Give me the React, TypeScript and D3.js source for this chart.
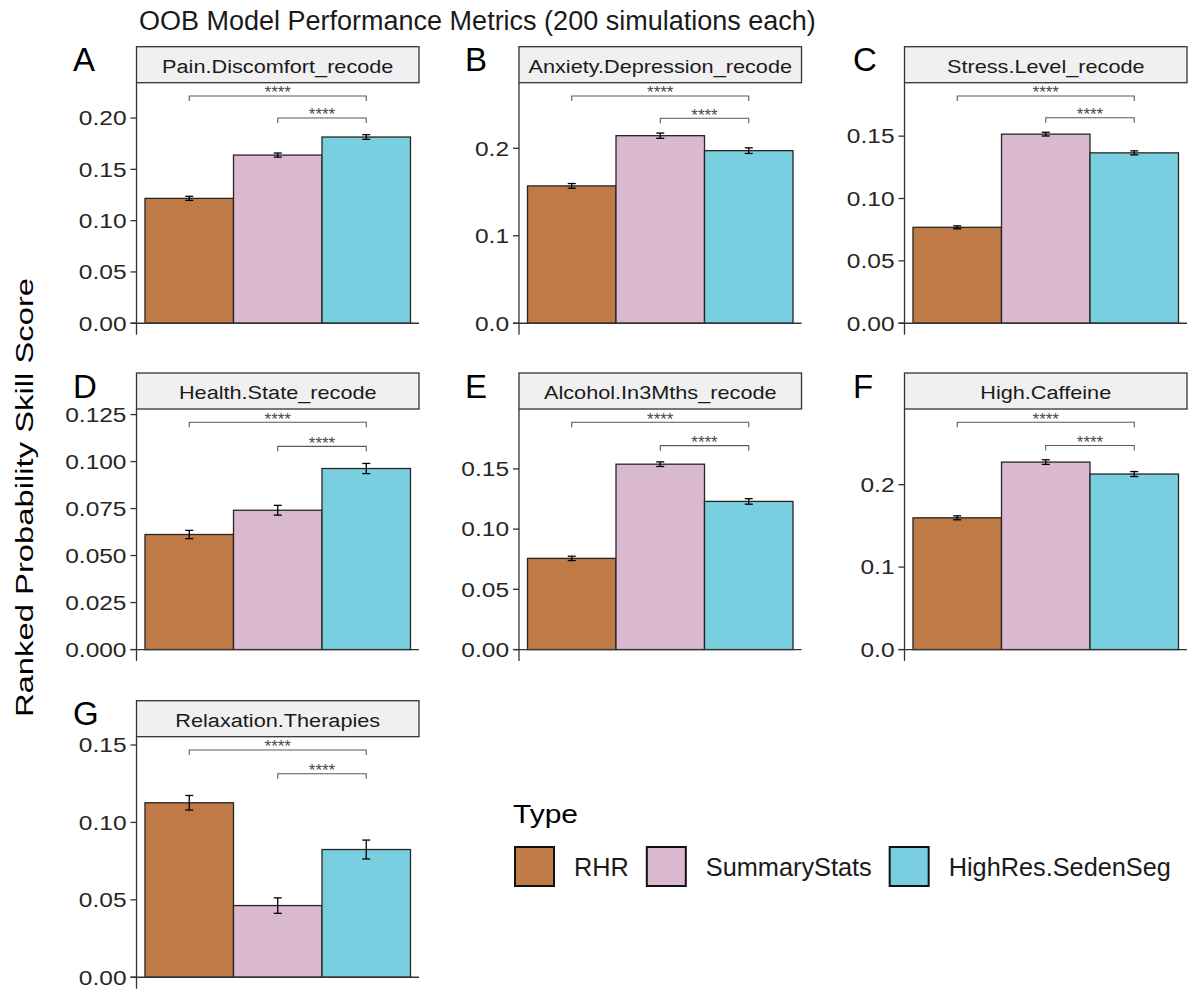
import React, { useMemo } from "react";
import * as d3 from "d3";

// ---- data ----
const types = ["RHR", "SummaryStats", "HighRes.SedenSeg"];
const typeColors = ["#BF7A45", "#DAB8D0", "#79CEDF"];

const panelLetters = ["A", "B", "C", "D", "E", "F", "G"];
const outcomes = [
  "Pain.Discomfort_recode",
  "Anxiety.Depression_recode",
  "Stress.Level_recode",
  "Health.State_recode",
  "Alcohol.In3Mths_recode",
  "High.Caffeine",
  "Relaxation.Therapies",
];

const rhrMean = [0.1217, 0.157, 0.0769, 0.0612, 0.0757, 0.1598, 0.1127];
const rhrErr = [0.002, 0.0027, 0.0012, 0.0022, 0.0018, 0.0024, 0.0047];
const summaryMean = [0.1639, 0.2144, 0.1516, 0.0741, 0.1539, 0.2274, 0.0463];
const summaryErr = [0.002, 0.003, 0.0015, 0.0026, 0.0019, 0.0028, 0.005];
const highResMean = [0.1815, 0.1973, 0.1366, 0.0963, 0.123, 0.2129, 0.0825];
const highResErr = [0.0023, 0.0032, 0.0016, 0.0027, 0.0023, 0.003, 0.0061];

// significance brackets (SummaryStats vs HighRes, RHR vs HighRes)
const bracketInner = [0.2, 0.2343, 0.1648, 0.1081, 0.1693, 0.2476, 0.1314];
const bracketOuter = [0.2215, 0.2598, 0.1822, 0.1209, 0.1887, 0.2757, 0.1468];
const bracketLabel = "****";

const tickValues = [
  [0, 0.05, 0.1, 0.15, 0.2],
  [0, 0.1, 0.2],
  [0, 0.05, 0.1, 0.15],
  [0, 0.025, 0.05, 0.075, 0.1, 0.125],
  [0, 0.05, 0.1, 0.15],
  [0, 0.1, 0.2],
  [0, 0.05, 0.1, 0.15],
];
const tickFormats = [".2f", ".1f", ".2f", ".3f", ".2f", ".1f", ".2f"];

const title = "OOB Model Performance Metrics (200 simulations each)";
const yTitle = "Ranked Probability Skill Score";
const legendTitle = "Type";

// ---- layout ----
const W = 1190;
const H = 990;
const FONT = "'Liberation Sans', Arial, Helvetica, sans-serif";
const colAxisX = [136.5, 519, 904.5];
const letterX = [73, 465, 853];
const rowStripTop = [46.7, 373, 700.7];
const PANEL_W = 282.5;
const STRIP_H = 36;
const PLOT_H = 252;
const BAR_PAD = 8.5;
const TICK_LEN = 6;
const TIP_LEN = 5;
const INK = "#262626";

function Panel({ i }: { i: number }) {
  const col = i % 3;
  const row = Math.floor(i / 3);
  const x0 = colAxisX[col];
  const stripTop = rowStripTop[row];
  const plotTop = stripTop + STRIP_H;
  const plotBottom = plotTop + PLOT_H;
  const top = bracketOuter[i] * 1.008;
  const y = d3
    .scaleLinear()
    .domain([-0.05 * top, 1.05 * top])
    .range([plotBottom, plotTop]);
  const x = d3
    .scaleBand<string>()
    .domain(types)
    .range([x0 + BAR_PAD, x0 + PANEL_W - BAR_PAD])
    .padding(0);
  const bw = x.bandwidth();
  const cx = (t: string) => (x(t) as number) + bw / 2;
  const means = [rhrMean[i], summaryMean[i], highResMean[i]];
  const errs = [rhrErr[i], summaryErr[i], highResErr[i]];
  const fmt = d3.format(tickFormats[i]);

  const brackets = [
    { from: types[1], to: types[2], v: bracketInner[i] },
    { from: types[0], to: types[2], v: bracketOuter[i] },
  ];

  return (
    <g>
      {/* panel letter */}
      <text
        x={letterX[col]}
        y={stripTop + 24.5}
        fontSize={33}
        fontFamily={FONT}
        fill="#000"
      >
        {panelLetters[i]}
      </text>

      {/* facet strip */}
      <rect
        x={x0}
        y={stripTop}
        width={PANEL_W}
        height={STRIP_H}
        fill="#F0F0F0"
        stroke="#333"
        strokeWidth={1.3}
      />
      <text
        transform={`translate(${x0 + PANEL_W / 2},${stripTop + STRIP_H / 2 + 8}) scale(1,0.86)`}
        textAnchor="middle"
        fontSize={21.7}
        fontFamily={FONT}
        fill="#1A1A1A"
      >
        {outcomes[i]}
      </text>

      {/* bars */}
      {types.map((t, k) => (
        <rect
          key={t}
          x={x(t)}
          y={y(means[k])}
          width={bw}
          height={y(0) - y(means[k])}
          fill={typeColors[k]}
          stroke={INK}
          strokeWidth={1.3}
        />
      ))}

      {/* error bars */}
      {types.map((t, k) => {
        const c = cx(t);
        const lo = y(means[k] - errs[k]);
        const hi = y(means[k] + errs[k]);
        return (
          <g key={t} stroke="#000" strokeWidth={1.3} fill="none">
            <line x1={c} x2={c} y1={lo} y2={hi} />
            <line x1={c - 4} x2={c + 4} y1={lo} y2={lo} />
            <line x1={c - 4} x2={c + 4} y1={hi} y2={hi} />
          </g>
        );
      })}

      {/* significance brackets */}
      {brackets.map((b, k) => {
        const xa = cx(b.from);
        const xb = cx(b.to);
        const yy = y(b.v);
        return (
          <g key={k}>
            <path
              d={`M${xa},${yy + TIP_LEN}V${yy}H${xb}V${yy + TIP_LEN}`}
              fill="none"
              stroke="#5A5A5A"
              strokeWidth={1.1}
            />
            <text
              x={(xa + xb) / 2}
              y={yy + 2.4}
              textAnchor="middle"
              fontSize={17}
              fontFamily={FONT}
              fill="#4A4A4A"
            >
              {bracketLabel}
            </text>
          </g>
        );
      })}

      {/* zero line */}
      <line
        x1={x0 - TICK_LEN}
        x2={x0 + PANEL_W}
        y1={y(0)}
        y2={y(0)}
        stroke="#333"
        strokeWidth={1.3}
      />

      {/* y axis */}
      <line
        x1={x0}
        x2={x0}
        y1={plotTop}
        y2={plotBottom}
        stroke="#333"
        strokeWidth={1.3}
      />
      {tickValues[i].map((v) => (
        <g key={v}>
          <line
            x1={x0 - TICK_LEN}
            x2={x0}
            y1={y(v)}
            y2={y(v)}
            stroke="#333"
            strokeWidth={1.3}
          />
          <text
            transform={`translate(${x0 - 10},${y(v) + 7.3}) scale(1,0.83)`}
            textAnchor="end"
            fontSize={24.5}
            fontFamily={FONT}
            fill="#262626"
          >
            {fmt(v)}
          </text>
        </g>
      ))}
    </g>
  );
}

function Legend() {
  const measure = useMemo(() => {
    const ctx = document.createElement("canvas").getContext("2d");
    return (s: string, size: number) => {
      if (!ctx) return s.length * size * 0.55;
      ctx.font = `${size}px 'Liberation Sans', Arial, sans-serif`;
      return ctx.measureText(s).width;
    };
  }, []);
  const left = 515;
  const keyTop = 847;
  const keySize = 39;
  const labelSize = 25.3;
  const gapKeyLabel = 20;
  const gapItem = 18;
  let cursor = left;
  const items = types.map((t, k) => {
    const kx = cursor;
    const lx = kx + keySize + gapKeyLabel;
    const w = measure(t, labelSize);
    cursor = lx + w + gapItem;
    return { t, k, kx, lx };
  });
  return (
    <g>
      <text
        transform={`translate(${left - 2},823) scale(1,0.84)`}
        fontSize={30}
        fontFamily={FONT}
        fill="#000"
      >
        {legendTitle}
      </text>
      {items.map(({ t, k, kx, lx }) => (
        <g key={t}>
          <rect
            x={kx}
            y={keyTop}
            width={keySize}
            height={keySize}
            fill={typeColors[k]}
            stroke="#111"
            strokeWidth={2}
          />
          <text
            x={lx}
            y={keyTop + keySize / 2 + 0.716 * labelSize * 0.5}
            fontSize={labelSize}
            fontFamily={FONT}
            fill="#1A1A1A"
          >
            {t}
          </text>
        </g>
      ))}
    </g>
  );
}

export default function App() {
  return (
    <svg
      width={W}
      height={H}
      viewBox={`0 0 ${W} ${H}`}
      style={{ position: "absolute", left: 0, top: 0, display: "block", background: "#fff" }}
    >
      <rect x={0} y={0} width={W} height={H} fill="#fff" />
      <text x={139} y={30} fontSize={27} fontFamily={FONT} fill="#1A1A1A">
        {title}
      </text>
      <text
        transform={`translate(33,497.5) rotate(-90) scale(1,0.74)`}
        textAnchor="middle"
        fontSize={32.8}
        fontFamily={FONT}
        fill="#000"
      >
        {yTitle}
      </text>
      {outcomes.map((_, i) => (
        <Panel key={i} i={i} />
      ))}
      <Legend />
    </svg>
  );
}
